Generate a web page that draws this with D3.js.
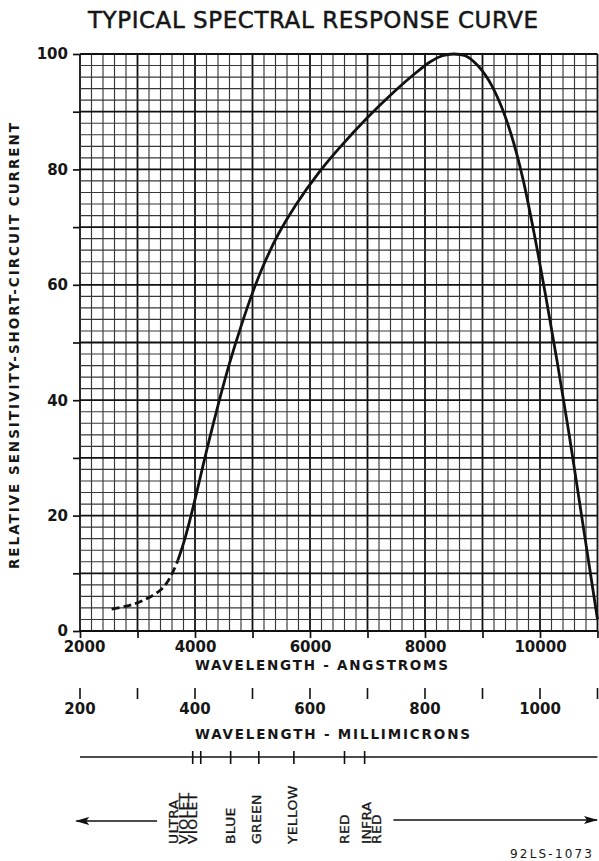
<!DOCTYPE html>
<html>
<head>
<meta charset="utf-8">
<script src="https://cdn.jsdelivr.net/npm/d3@7"></script>
<style>
  html, body { margin: 0; padding: 0; background: #fff; }
  svg { display: block; }
  text { font-family: "DejaVu Sans", "Liberation Sans", sans-serif; fill: #161616; }
</style>
</head>
<body>
<svg id="chart" width="599" height="861"></svg>
<script>
// ---------- data ----------
const titleText = "TYPICAL SPECTRAL RESPONSE CURVE";
const yAxisTitle = "RELATIVE SENSITIVITY-SHORT-CIRCUIT CURRENT";
const xAxisTitle = "WAVELENGTH - ANGSTROMS";
const muAxisTitle = "WAVELENGTH - MILLIMICRONS";
const footerText = "92LS-1073";

const xDomain = [2000, 11000];
const yDomain = [0, 100];
const xLabelTicks = [2000, 4000, 6000, 8000, 10000];
const xMajorTicks = [2000, 3000, 4000, 5000, 6000, 7000, 8000, 9000, 10000, 11000];
const yLabelTicks = [0, 20, 40, 60, 80, 100];
const yMajorTicks = [0, 10, 20, 30, 40, 50, 60, 70, 80, 90, 100];
const xMinorStep = 200;
const yMinorStep = 2;

const muTicks = [200, 300, 400, 500, 600, 700, 800, 900, 1000, 1100];
const muLabelTicks = [200, 400, 600, 800, 1000];

// dashed (extrapolated) part of response curve: [angstrom, relative %]
const curveDashed = [
  [2550, 3.8], [2800, 4.3], [3000, 4.9], [3200, 5.8], [3400, 7.1],
  [3500, 8.2], [3600, 9.9], [3700, 12.2]
];
// solid part of response curve
const curveSolid = [
  [3700, 12.2], [3800, 15.2], [3900, 18.8], [4000, 22.8], [4100, 27.0], [4200, 31.2],
  [4300, 35.2], [4450, 41.0], [4600, 46.4], [4800, 52.8], [5000, 58.6], [5200, 63.6],
  [5450, 68.8], [5750, 73.8], [6150, 79.4], [6500, 83.6], [7000, 89.0], [7500, 93.8],
  [7800, 96.4], [8100, 98.7], [8300, 99.7], [8500, 100], [8700, 99.7], [8900, 98.2],
  [9100, 95.6], [9300, 91.6], [9500, 86.0], [9700, 78.5], [9900, 68.8], [10100, 58.0],
  [10300, 46.6], [10500, 34.5], [10700, 21.5], [10900, 8.5], [11000, 2.0]
];

// colour band marks (millimicrons)
const colorTicks = [396, 410, 462, 511, 572, 660, 695];
const colorLabels = [
  { lines: ["ULTRA", "VIOLET"], at: 372 },
  { lines: ["VIOLET"], at: 396 },
  { lines: ["BLUE"], at: 462 },
  { lines: ["GREEN"], at: 508 },
  { lines: ["YELLOW"], at: 570 },
  { lines: ["RED"], at: 660 },
  { lines: ["INFRA", "RED"], at: 707 }
];
const arrowLeft = [334, 197];   // from, to (millimicrons)
const arrowRight = [745, 1100];

// ---------- layout ----------
const svg = d3.select("#chart");
const x = d3.scaleLinear().domain(xDomain).range([80, 597.5]);
const y = d3.scaleLinear().domain(yDomain).range([631, 54]);
const xMu = d => x(d * 10);

// title
svg.append("text").attr("x", 313).attr("y", 28).attr("text-anchor", "middle")
  .attr("font-size", 23).attr("stroke", "#161616").attr("stroke-width", 0.5)
  .attr("textLength", 450).attr("lengthAdjust", "spacing")
  .text(titleText);

// grid
const g = svg.append("g");
const xMinor = d3.range(xDomain[0], xDomain[1] + 1, xMinorStep);
const yMinor = d3.range(yDomain[0], yDomain[1] + 0.1, yMinorStep);
g.selectAll("line.vx").data(xMinor).join("line")
  .attr("x1", d => x(d)).attr("x2", d => x(d)).attr("y1", y(0)).attr("y2", y(100))
  .attr("stroke", d => d % 1000 === 0 ? "#111" : "#383838")
  .attr("stroke-width", d => d % 1000 === 0 ? 1.8 : 1.15);
g.selectAll("line.hy").data(yMinor).join("line")
  .attr("y1", d => y(d)).attr("y2", d => y(d)).attr("x1", x(2000)).attr("x2", x(11000))
  .attr("stroke", d => d % 10 === 0 ? "#111" : "#383838")
  .attr("stroke-width", d => d % 10 === 0 ? 1.8 : 1.15);

// axes ticks
const yAxis = d3.axisLeft(y).tickValues(yMajorTicks).tickSize(7)
  .tickFormat(d => yLabelTicks.includes(d) ? d : "");
const yg = svg.append("g").attr("transform", `translate(${x(2000)},0)`).call(yAxis);
yg.select(".domain").remove();
yg.selectAll(".tick line").attr("stroke", "#111").attr("stroke-width", 1.7);
yg.selectAll(".tick text").attr("x", -12).attr("font-size", 15).attr("font-weight", "bold")
  .attr("font-family", "DejaVu Sans").attr("fill", "#161616");

const xAxis = d3.axisBottom(x).tickValues(xMajorTicks).tickSize(7)
  .tickFormat(d => xLabelTicks.includes(d) ? d : "");
const xg = svg.append("g").attr("transform", `translate(0,${y(0)})`).call(xAxis);
xg.select(".domain").remove();
xg.selectAll(".tick line").attr("stroke", "#111").attr("stroke-width", 1.7);
xg.selectAll(".tick text").attr("y", 10).attr("font-size", 15).attr("font-weight", "bold")
  .attr("font-family", "DejaVu Sans").attr("fill", "#161616")
  .attr("dx", d => d === 2000 ? 4 : 0);

// axis titles
svg.append("text").attr("x", 321.5).attr("y", 670).attr("text-anchor", "middle")
  .attr("font-size", 13.5).attr("font-weight", "bold")
  .attr("textLength", 253).attr("lengthAdjust", "spacing").text(xAxisTitle);
svg.append("text").attr("transform", "translate(19,346) rotate(-90)")
  .attr("text-anchor", "middle").attr("font-size", 13.5).attr("font-weight", "bold")
  .attr("textLength", 446).attr("lengthAdjust", "spacing").text(yAxisTitle);

// curve
const line = d3.line().x(d => x(d[0])).y(d => y(d[1])).curve(d3.curveCatmullRom.alpha(0.5));
svg.append("path").datum(curveDashed).attr("d", line).attr("fill", "none")
  .attr("stroke", "#111").attr("stroke-width", 2.8).attr("stroke-dasharray", "8,4");
svg.append("path").datum(curveSolid).attr("d", line).attr("fill", "none")
  .attr("stroke", "#111").attr("stroke-width", 2.8);

// millimicron scale
const mg = svg.append("g");
mg.selectAll("line").data(muTicks).join("line")
  .attr("x1", d => xMu(d)).attr("x2", d => xMu(d)).attr("y1", 688).attr("y2", 699)
  .attr("stroke", "#111").attr("stroke-width", 1.6);
mg.selectAll("text").data(muLabelTicks).join("text")
  .attr("x", d => xMu(d)).attr("y", 714).attr("text-anchor", "middle")
  .attr("font-size", 15).attr("font-weight", "bold").text(d => d);
svg.append("text").attr("x", 332.5).attr("y", 739).attr("text-anchor", "middle")
  .attr("font-size", 13.5).attr("font-weight", "bold")
  .attr("textLength", 275).attr("lengthAdjust", "spacing").text(muAxisTitle);

// colour band line
svg.append("line").attr("x1", xMu(200)).attr("x2", xMu(1100)).attr("y1", 757).attr("y2", 757)
  .attr("stroke", "#111").attr("stroke-width", 1.7);
svg.append("g").selectAll("line").data(colorTicks).join("line")
  .attr("x1", d => xMu(d)).attr("x2", d => xMu(d)).attr("y1", 751).attr("y2", 764)
  .attr("stroke", "#111").attr("stroke-width", 1.6);

const lg = svg.append("g");
colorLabels.forEach(l => {
  const t = lg.append("text")
    .attr("transform", `translate(${xMu(l.at)},844) rotate(-90) scale(1.2,1)`)
    .attr("font-size", 11.5).attr("letter-spacing", 0.3)
    .attr("stroke", "#161616").attr("stroke-width", 0.3);
  const n = l.lines.length;
  l.lines.forEach((s, i) => {
    t.append("tspan").attr("x", 0).attr("y", (i - (n - 1) / 2) * 10 + 4.2).text(s);
  });
});

// arrows
const defs = svg.append("defs");
defs.append("marker").attr("id", "ah").attr("viewBox", "0 0 14 8")
  .attr("refX", 13).attr("refY", 4).attr("markerWidth", 14).attr("markerHeight", 8)
  .attr("markerUnits", "userSpaceOnUse").attr("orient", "auto")
  .append("path").attr("d", "M0,0 L14,4 L0,8 L3,4 Z").attr("fill", "#111");
svg.append("line").attr("x1", xMu(arrowLeft[0])).attr("x2", xMu(arrowLeft[1]) - 2)
  .attr("y1", 821).attr("y2", 821).attr("stroke", "#111").attr("stroke-width", 1.7)
  .attr("marker-end", "url(#ah)");
svg.append("line").attr("x1", xMu(arrowRight[0])).attr("x2", xMu(arrowRight[1]) - 0.5)
  .attr("y1", 820).attr("y2", 820).attr("stroke", "#111").attr("stroke-width", 1.7)
  .attr("marker-end", "url(#ah)");

// footer
svg.append("text").attr("x", 551).attr("y", 858).attr("text-anchor", "middle")
  .attr("font-size", 12).attr("textLength", 82).attr("lengthAdjust", "spacing").text(footerText);
</script>
</body>
</html>
